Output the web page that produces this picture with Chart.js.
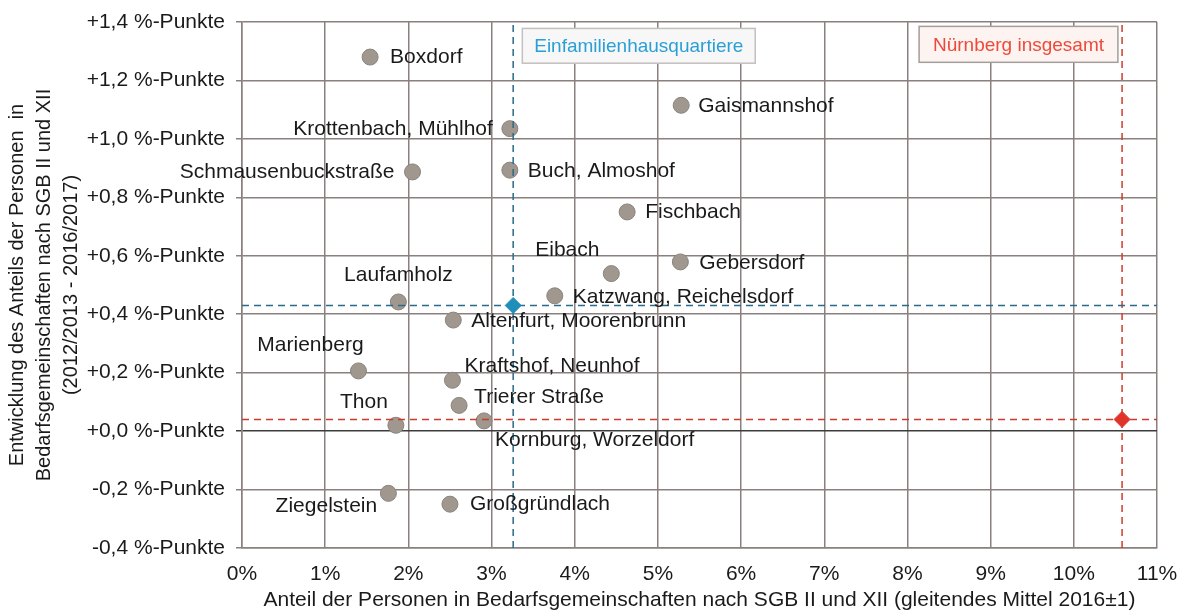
<!DOCTYPE html>
<html>
<head>
<meta charset="utf-8">
<script src="https://cdn.jsdelivr.net/npm/chart.js@4"></script>
<style>
  html, body { margin: 0; padding: 0; background: #fff; }
  #wrap { width: 1178px; height: 612px; }
</style>
</head>
<body>
<div id="wrap"><canvas id="sgbChart"></canvas></div>
<script>
// districts (Einfamilienhausquartiere) and their values
const districts = ['Boxdorf', 'Gaismannshof', 'Krottenbach, Mühlhof', 'Schmausenbuckstraße', 'Buch, Almoshof',
    'Fischbach', 'Eibach', 'Gebersdorf', 'Katzwang, Reichelsdorf', 'Laufamholz', 'Altenfurt, Moorenbrunn',
    'Marienberg', 'Kraftshof, Neunhof', 'Trierer Straße', 'Kornburg, Worzeldorf', 'Thon', 'Ziegelstein', 'Großgründlach'];
const shareSGB = [1.54, 5.28, 3.22, 2.05, 3.22, 4.63, 4.44, 5.27, 3.76, 1.88, 2.54, 1.40, 2.53, 2.61, 2.91, 1.85, 1.76, 2.50]; // % 2016±1
const changePts = [1.28, 1.115, 1.035, 0.887, 0.893, 0.75, 0.539, 0.579, 0.463, 0.442, 0.38, 0.206, 0.174, 0.088, 0.035, 0.02, -0.213, -0.25]; // %-Punkte

// averages
const quarterMean = { x: 3.26, y: 0.43 };   // Einfamilienhausquartiere
const cityMean = { x: 10.58, y: 0.04 };     // Nürnberg insgesamt

const xRange = [0, 11];
const yRange = [-0.4, 1.4];

// label placement next to each point: [dx, dy, align] in px
const labelOffsets = [
    [20, 0, 'left'], [17, 1, 'left'], [-17, 1, 'right'], [-18, 0, 'right'], [18, 1, 'left'],
    [18, 0, 'left'], [-44, -23, 'center'], [19, 1, 'left'], [18, 1, 'left'], [0, -27, 'center'],
    [18, 1, 'left'], [-48, -26, 'center'], [12, -14, 'left'], [15, -8, 'left'], [11, 19, 'left'],
    [-32, -23, 'center'], [-62, 13, 'center'], [20, 0, 'left']
];

const gridColor = '#8a807e';
const textColor = '#1a1a1a';
const blue = '#1f8fba';
const blueLine = '#2b6a8a';
const red = '#e0342a';
const redLine = '#cf3b2b';
const font = '"Liberation Sans", Arial, sans-serif';

// boxes with the group names (data coordinates)
const noteBoxes = [
    { text: 'Einfamilienhausquartiere', x1: 3.37, x2: 6.17, y1: 1.378, y2: 1.259, fill: '#f7f7f7', stroke: '#c4c0bf', color: '#2a9fd6' },
    { text: 'Nürnberg insgesamt', x1: 8.14, x2: 10.53, y1: 1.385, y2: 1.262, fill: '#fdf3f1', stroke: '#a39d9b', color: '#ee4a3a' }
];

const labelPlugin = {
    id: 'pointLabels',
    afterDatasetsDraw(chart) {
        const { ctx, scales: { x, y } } = chart;
        ctx.save();
        ctx.font = '21px ' + font;
        ctx.fillStyle = textColor;
        ctx.textBaseline = 'middle';
        districts.forEach((name, i) => {
            const [dx, dy, align] = labelOffsets[i];
            ctx.textAlign = align;
            ctx.fillText(name, x.getPixelForValue(shareSGB[i]) + dx, y.getPixelForValue(changePts[i]) + dy);
        });
        noteBoxes.forEach(b => {
            const left = x.getPixelForValue(b.x1), right = x.getPixelForValue(b.x2);
            const top = y.getPixelForValue(b.y1), bottom = y.getPixelForValue(b.y2);
            ctx.fillStyle = b.fill;
            ctx.fillRect(left, top, right - left, bottom - top);
            ctx.strokeStyle = b.stroke;
            ctx.lineWidth = 1.5;
            ctx.strokeRect(left, top, right - left, bottom - top);
            ctx.fillStyle = b.color;
            ctx.textAlign = 'center';
            ctx.font = '19px ' + font;
            ctx.fillText(b.text, (left + right) / 2, (top + bottom) / 2 + 1);
        });
        ctx.restore();
    }
};

function refLine(p1, p2, color) {
    return {
        data: [p1, p2],
        showLine: true,
        borderColor: color,
        borderWidth: 1.5,
        borderDash: [7, 5],
        pointRadius: 0,
        order: 1
    };
}

const ctx = document.getElementById('sgbChart').getContext('2d');
const sgbChart = new Chart(ctx, {
    type: 'scatter',
    data: {
        datasets: [
            {
                data: [quarterMean, cityMean],
                pointStyle: 'rectRot',
                pointRadius: 8,
                backgroundColor: [blue, red],
                borderColor: [blue, red],
                order: 0
            },
            refLine({ x: quarterMean.x, y: yRange[0] }, { x: quarterMean.x, y: yRange[1] }, blueLine),
            refLine({ x: xRange[0], y: quarterMean.y }, { x: xRange[1], y: quarterMean.y }, blueLine),
            refLine({ x: cityMean.x, y: yRange[0] }, { x: cityMean.x, y: yRange[1] }, redLine),
            refLine({ x: xRange[0], y: cityMean.y }, { x: xRange[1], y: cityMean.y }, redLine),
            {
                data: shareSGB.map((v, i) => ({ x: v, y: changePts[i] })),
                pointRadius: 8,
                backgroundColor: '#a0978f',
                borderColor: '#8a837d',
                borderWidth: 1,
                order: 2
            }
        ]
    },
    options: {
        responsive: true,
        maintainAspectRatio: false,
        animation: false,
        layout: { padding: { left: 0, right: 21, top: 22, bottom: 0 } },
        plugins: {
            legend: { display: false },
            tooltip: { enabled: false }
        },
        scales: {
            x: {
                min: xRange[0],
                max: xRange[1],
                afterFit: s => { s.height = 64; s.paddingLeft = 0; s.paddingRight = 0; },
                border: { color: gridColor, width: 1.5 },
                grid: { color: gridColor, lineWidth: 1.5, drawTicks: false },
                ticks: {
                    stepSize: 1,
                    padding: 14,
                    color: textColor,
                    font: { family: font, size: 21 },
                    callback: v => v + '%'
                },
                title: {
                    display: true,
                    text: 'Anteil der Personen in Bedarfsgemeinschaften nach SGB II und XII (gleitendes Mittel 2016±1)',
                    color: textColor,
                    font: { family: font, size: 21, lineHeight: 1.1 },
                    padding: { top: 0, bottom: 0 }
                }
            },
            y: {
                min: yRange[0],
                max: yRange[1],
                afterFit: s => { s.width = 242; s.paddingTop = 0; s.paddingBottom = 0; },
                border: { color: gridColor, width: 1.5 },
                grid: {
                    color: c => (c.tick && Math.abs(c.tick.value) < 1e-9) ? '#3c3c3c' : gridColor,
                    lineWidth: 1.5,
                    tickLength: 6
                },
                ticks: {
                    stepSize: 0.2,
                    padding: 11,
                    color: textColor,
                    font: { family: font, size: 21 },
                    callback: v => {
                        const r = Math.round(v * 10) / 10;
                        return (r < 0 ? '-' : '+') + Math.abs(r).toFixed(1).replace('.', ',') + ' %-Punkte';
                    }
                },
                title: {
                    display: true,
                    text: ['Entwicklung des Anteils der Personen  in', 'Bedarfsgemeinschaften nach SGB II und XII', '(2012/2013 - 2016/2017)'],
                    color: textColor,
                    font: { family: font, size: 20, lineHeight: 1.35 },
                    padding: { top: 4, bottom: 0 }
                }
            }
        }
    },
    plugins: [labelPlugin]
});
</script>
</body>
</html>
